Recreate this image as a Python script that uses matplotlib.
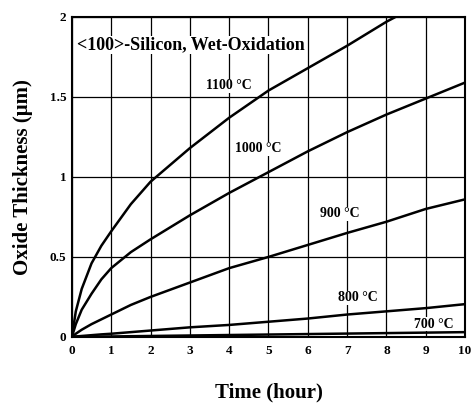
import matplotlib
matplotlib.use("Agg")
import matplotlib.pyplot as plt

time_h = [0, 0.1, 0.25, 0.5, 0.75, 1, 1.5, 2, 3, 4, 5, 6, 7, 8, 9, 10]
t1100 = [0, 0.16, 0.30, 0.46, 0.57, 0.66, 0.83, 0.97, 1.18, 1.37, 1.54, 1.68, 1.82, 1.97, 2.10, 2.22]
t1000 = [0, 0.08, 0.17, 0.27, 0.36, 0.43, 0.53, 0.61, 0.76, 0.90, 1.03, 1.16, 1.28, 1.39, 1.49, 1.59]
t900 = [0, 0.02, 0.045, 0.08, 0.11, 0.14, 0.20, 0.25, 0.34, 0.43, 0.50, 0.575, 0.65, 0.72, 0.80, 0.86]
t800 = [0, 0.003, 0.006, 0.011, 0.016, 0.02, 0.03, 0.04, 0.06, 0.075, 0.095, 0.115, 0.14, 0.16, 0.18, 0.205]
t700 = [0, 0.0005, 0.001, 0.002, 0.0025, 0.003, 0.0045, 0.006, 0.009, 0.012, 0.015, 0.018, 0.021, 0.024, 0.027, 0.03]
series = [t1100, t1000, t900, t800, t700]
labels = ["1100 °C", "1000 °C", "900 °C", "800 °C", "700 °C"]
label_pos = [(4.0, 1.57), (4.75, 1.175), (6.82, 0.77), (7.28, 0.245), (9.2, 0.08)]
xticks = list(range(0, 11))
yticks = [0, 0.5, 1, 1.5, 2]
ytick_labels = ["0", "0.5", "1", "1.5", "2"]

plt.rcParams['font.family'] = ['Liberation Serif', 'DejaVu Serif']

fig = plt.figure(figsize=(4.76, 4.04), dpi=100)
ax = fig.add_axes([0.151, 0.166, 0.826, 0.792])

for s in series:
    ax.plot(time_h, s, color='black', lw=1.8, clip_on=True)

for lab, (x, y) in zip(labels, label_pos):
    ax.text(x, y, lab, ha='center', va='center', fontsize=10, fontweight='bold',
            bbox=dict(facecolor='white', edgecolor='none', pad=0.5))

ax.text(0.13, 1.825, "<100>-Silicon, Wet-Oxidation", ha='left', va='center',
        fontsize=13, fontweight='bold',
        bbox=dict(facecolor='white', edgecolor='none', pad=0.5))

ax.set_xlim(0, 10)
ax.set_ylim(0, 2)
ax.set_xticks(xticks)
ax.set_yticks(yticks)
ax.set_xticklabels([str(v) for v in xticks], fontweight='bold', fontsize=9.5)
ax.set_yticklabels(ytick_labels, fontweight='bold', fontsize=9.5)
ax.tick_params(axis='x', length=0, pad=6)
ax.tick_params(axis='y', length=0, pad=4)
ax.grid(True, color='black', lw=0.9)
ax.set_axisbelow(True)
for sp in ax.spines.values():
    sp.set_linewidth(1.5)

ax.set_xlabel("Time (hour)", fontsize=15, fontweight='bold', labelpad=18)
ax.set_ylabel("Oxide Thickness (μm)", fontsize=15, fontweight='bold', labelpad=12)

fig.savefig("out.png", dpi=100)
